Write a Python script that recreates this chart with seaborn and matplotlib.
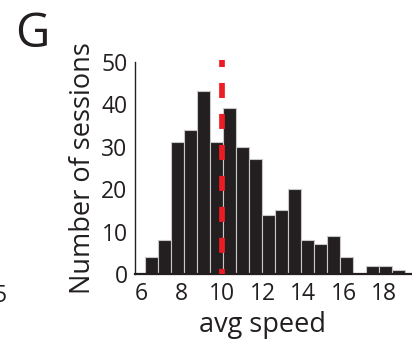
import numpy as np
import pandas as pd
import matplotlib
matplotlib.use("Agg")
import matplotlib.pyplot as plt
import seaborn as sns

# ---- data ----
bin_start = 6.2
bin_width = 0.64
counts = [4, 8, 31, 34, 43, 31, 39, 30, 27, 14, 15, 20, 8, 7, 9, 4, 0, 2, 2, 1]
mean_speed = 9.98
x_ticks = [6, 8, 10, 12, 14, 16, 18]
y_ticks = [0, 10, 20, 30, 40, 50]

edges = bin_start + bin_width * np.arange(len(counts) + 1)
centers = (edges[:-1] + edges[1:]) / 2
df = pd.DataFrame({"speed": centers, "n": counts})

sns.set_style("white")
plt.rcParams["font.family"] = ["Open Sans", "DejaVu Sans"]

W, H = 412, 339
XMIN, XMAX = 5.66, 19.37
fig = plt.figure(figsize=(W / 100, H / 100), dpi=100)
ax = fig.add_axes([134.5 / W, (H - 274) / H, (W - 134.5) / W, (274 - 61.7) / H])

sns.histplot(data=df, x="speed", weights="n", binwidth=bin_width,
             binrange=(edges[0], edges[-1]), ax=ax,
             color="#231f20", alpha=1, edgecolor="#c8c8c8", linewidth=0.8)

ax.set_xlim(XMIN, XMAX)
ax.set_ylim(0, 50)
ax.set_xticks(x_ticks)
ax.set_yticks(y_ticks)
ax.tick_params(axis="both", direction="in", labelsize=16.5, colors="#231f20",
               length=2.5, width=1.1)
ax.tick_params(axis="y", pad=5)
ax.tick_params(axis="x", pad=6)

for s in ["top", "right"]:
    ax.spines[s].set_visible(False)
ax.spines["left"].set_linewidth(1.0)
ax.spines["left"].set_color("#231f20")
ax.spines["bottom"].set_linewidth(1.6)
ax.spines["bottom"].set_color("#231f20")

# mean line (dashed red)
ln, = ax.plot([mean_speed, mean_speed], [50.5, 0], color="#ed1c24", lw=4.1,
              clip_on=False, zorder=5)
ln.set_linestyle((5.76 / 4.1, (10.8 / 4.1, 11.5 / 4.1)))
ln.set_dash_capstyle("butt")

ax.set_xlabel("avg speed", fontsize=19.5, color="#231f20", labelpad=3.5)
ax.xaxis.label.set_x((12 - XMIN) / (XMAX - XMIN))
ax.set_ylabel("Number of sessions", fontsize=19.5, color="#231f20", labelpad=3)

fig.text(15 / W, 1 - 47 / H, "G", fontsize=34, ha="left", va="baseline", color="#231f20")
fig.text(7 / W, 1 - 302 / H, "5", fontsize=16.5, ha="right", va="baseline", color="#231f20")

fig.savefig("out.png", dpi=100)
